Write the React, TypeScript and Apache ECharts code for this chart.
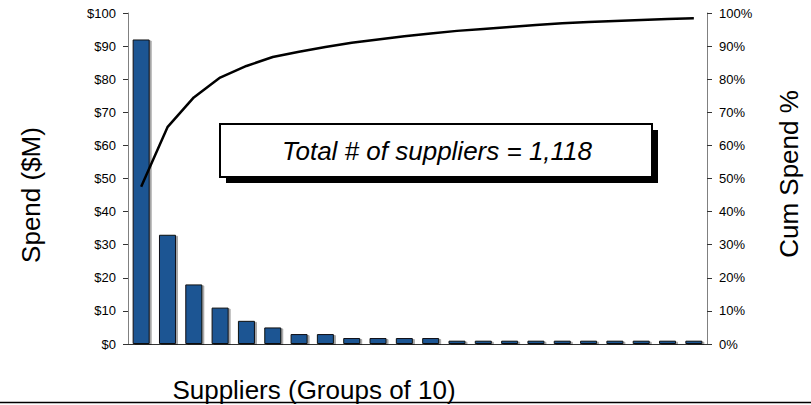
import React, { useEffect, useRef } from "react";
import * as echarts from "echarts";

const categories = ["1","2","3","4","5","6","7","8","9","10","11","12","13","14","15","16","17","18","19","20","21","22"];
const spend = [92, 33, 18, 11, 7, 5, 3, 3, 1.8, 1.8, 1.8, 1.8, 1, 1, 1, 1, 1, 1, 1, 1, 1, 1];
const cumPct = [47.5, 65.5, 74.5, 80.5, 84, 86.7, 88.3, 89.7, 91, 92, 93, 93.8, 94.6, 95.2, 95.8, 96.4, 96.9, 97.3, 97.6, 97.9, 98.2, 98.4];
const leftTicks = { min: 0, max: 100, interval: 10 };
const rightTicks = { min: 0, max: 100, interval: 10 };
const xName = "Suppliers (Groups of 10)";
const leftName = "Spend ($M)";
const rightName = "Cum Spend %";
const boxText = "Total # of suppliers = 1,118";

const FONT = "'Liberation Sans', Arial, sans-serif";

export default function App() {
  const ref = useRef<HTMLDivElement>(null);
  useEffect(() => {
    if (!ref.current) return;
    const chart = echarts.init(ref.current, undefined, { renderer: "svg" });
    chart.setOption({
      animation: false,
      backgroundColor: "#ffffff",
      textStyle: { fontFamily: FONT },
      grid: { left: 128, right: 104, top: 13, bottom: 61, containLabel: false },
      xAxis: {
        type: "category",
        data: categories,
        boundaryGap: true,
        axisLine: { show: true, lineStyle: { color: "#333333", width: 1 } },
        axisTick: { show: false },
        axisLabel: { show: false },
        splitLine: { show: false },
      },
      yAxis: [
        {
          type: "value",
          position: "left",
          min: leftTicks.min,
          max: leftTicks.max,
          interval: leftTicks.interval,
          axisLine: { show: true, lineStyle: { color: "#808080", width: 1 } },
          axisTick: { show: true, length: 5, lineStyle: { color: "#333333" } },
          axisLabel: { formatter: (v: number) => "$" + v, color: "#000", fontSize: 13, margin: 12, fontFamily: FONT },
          splitLine: { show: false },
        },
        {
          type: "value",
          position: "right",
          min: rightTicks.min,
          max: rightTicks.max,
          interval: rightTicks.interval,
          axisLine: { show: true, lineStyle: { color: "#808080", width: 1 } },
          axisTick: { show: true, length: 5, lineStyle: { color: "#333333" } },
          axisLabel: { formatter: (v: number) => v + "%", color: "#000", fontSize: 13, margin: 12, fontFamily: FONT },
          splitLine: { show: false },
        },
      ],
      series: [
        {
          type: "bar",
          yAxisIndex: 0,
          data: spend,
          barWidth: 17,
          itemStyle: {
            color: "#1B5593",
            borderColor: "#111111",
            borderWidth: 1,
            shadowColor: "rgba(0,0,0,0.35)",
            shadowOffsetX: 2,
            shadowOffsetY: 1,
            shadowBlur: 1,
          },
        },
        {
          type: "line",
          yAxisIndex: 1,
          data: cumPct,
          showSymbol: false,
          symbol: "none",
          lineStyle: { color: "#000000", width: 2.5 },
          z: 5,
        },
      ],
      graphic: [
        {
          type: "line",
          shape: { x1: 0, y1: 402.5, x2: 811, y2: 402.5 },
          style: { stroke: "#000000", lineWidth: 1.5 },
        },
        {
          type: "text",
          x: 31,
          y: 195,
          rotation: Math.PI / 2,
          style: { text: leftName, fontSize: 26, fontFamily: FONT, fill: "#000", align: "center", verticalAlign: "middle" },
        },
        {
          type: "text",
          x: 789,
          y: 174,
          rotation: Math.PI / 2,
          style: { text: rightName, fontSize: 26, fontFamily: FONT, fill: "#000", align: "center", verticalAlign: "middle" },
        },
        {
          type: "text",
          x: 314,
          y: 390,
          style: { text: xName, fontSize: 26, fontFamily: FONT, fill: "#000", align: "center", verticalAlign: "middle" },
        },
        {
          type: "rect",
          shape: { x: 226, y: 130, width: 432, height: 53 },
          style: { fill: "#000000" },
          z: 10,
        },
        {
          type: "rect",
          shape: { x: 220, y: 124, width: 432, height: 53 },
          style: { fill: "#ffffff", stroke: "#000000", lineWidth: 2 },
          z: 11,
        },
        {
          type: "text",
          x: 437,
          y: 151,
          z: 12,
          style: { text: boxText, fontSize: 26, fontStyle: "italic", fontFamily: FONT, fill: "#000", align: "center", verticalAlign: "middle" },
        },
      ],
    });
    return () => chart.dispose();
  }, []);
  return <div ref={ref} style={{ position: "fixed", left: 0, top: 0, width: 811, height: 405 }} />;
}
